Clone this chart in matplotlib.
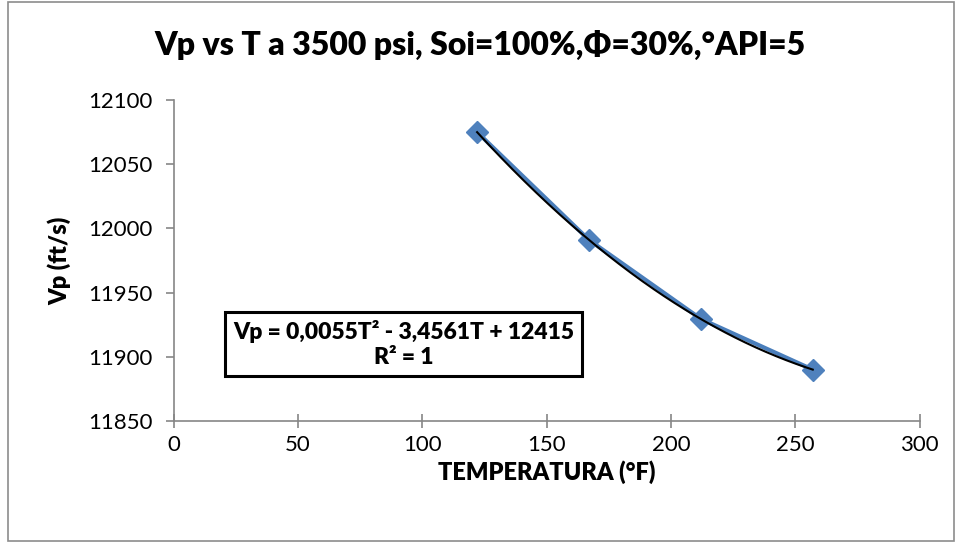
import numpy as np
import matplotlib
matplotlib.use("Agg")
import matplotlib.pyplot as plt
from matplotlib.patches import Rectangle

# data
temperatura = [122, 167, 212, 257]
vp = [12075, 11991, 11929.5, 11890]
x_ticks = [0, 50, 100, 150, 200, 250, 300]
y_ticks = [11850, 11900, 11950, 12000, 12050, 12100]

plt.rcParams['font.family'] = ['Lato', 'DejaVu Sans']

fig = plt.figure(figsize=(9.6, 5.43), dpi=100)
ax = fig.add_axes([0.181, 0.2247, 0.777, 0.5911])

# outer chart border
fig.patches.append(Rectangle((0.008, 0.004), 0.986, 0.992, transform=fig.transFigure,
                             fill=False, edgecolor='#8c8c8c', linewidth=1.2))

# series
ax.plot(temperatura, vp, color='#4A7EBB', linewidth=3, marker='D', markersize=11,
        markerfacecolor='#4F81BD', markeredgecolor='#4F81BD', zorder=3)

# polynomial trendline
coef = np.polyfit(temperatura, vp, 2)
xs = np.linspace(min(temperatura), max(temperatura), 200)
ax.plot(xs, np.polyval(coef, xs), color='black', linewidth=1.5, zorder=4)

ax.set_xlim(0, 300)
ax.set_ylim(11850, 12100)
ax.set_xticks(x_ticks)
ax.set_yticks(y_ticks)
for s in ['top', 'right']:
    ax.spines[s].set_visible(False)
for s in ['left', 'bottom']:
    ax.spines[s].set_color('#868686')
    ax.spines[s].set_linewidth(1.2)
ax.tick_params(axis='both', colors='#868686', labelcolor='black', labelsize=16,
               length=6, width=1.2, direction='out')
ax.tick_params(axis='x', direction='inout', length=10, pad=5)
ax.tick_params(axis='y', pad=9)

ax.set_xlabel('TEMPERATURA (°F)', fontsize=17, fontweight='heavy', labelpad=4)
ax.set_ylabel('Vp (ft/s)', fontsize=17, fontweight='heavy', labelpad=12)
fig.text(0.5, 0.917, 'Vp vs T a 3500 psi, Soi=100%,Φ=30%,°API=5', ha='center', va='center',
         fontsize=23, fontweight='heavy')

ax.text(0.308, 0.24, 'Vp = 0,0055T² - 3,4561T + 12415\nR² = 1', transform=ax.transAxes,
        ha='center', va='center', fontsize=16.5, fontweight='heavy', linespacing=1.2,
        bbox=dict(boxstyle='square,pad=0.35', facecolor='white', edgecolor='black', linewidth=2.2))

fig.savefig('out.png', dpi=100)
